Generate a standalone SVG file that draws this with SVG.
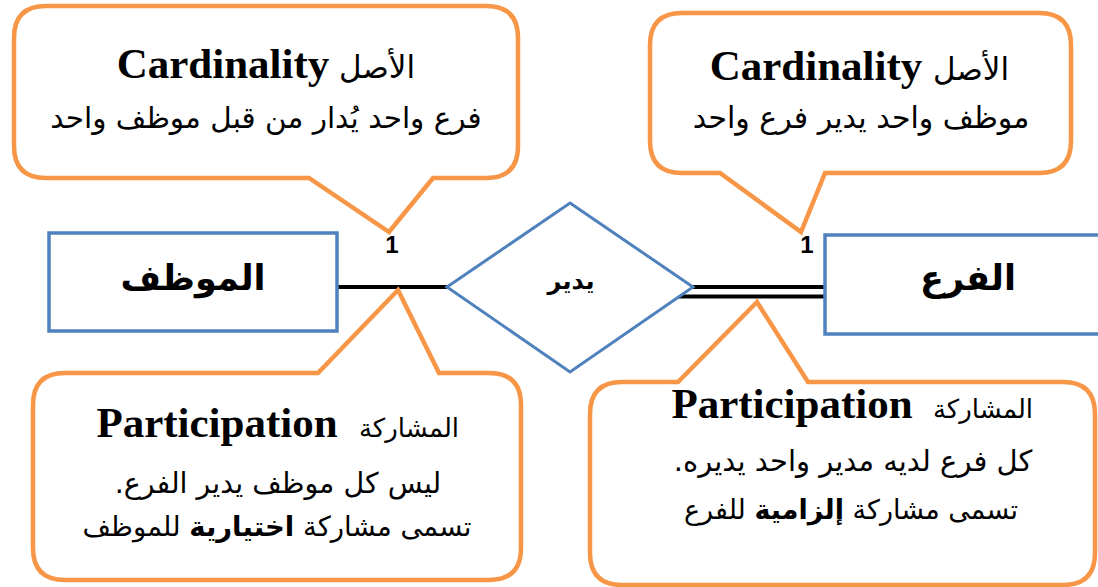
<svg xmlns="http://www.w3.org/2000/svg" width="1098" height="587" viewBox="0 0 1098 587">
<style>
.callout{fill:#fff;stroke:#F79646;stroke-width:4.5;stroke-linejoin:miter}
.ent{fill:#fff;stroke:#4F81BD;stroke-width:3.5}
.rel{fill:#fff;stroke:#4F81BD;stroke-width:3}
.conn{stroke:#000;stroke-width:4;fill:none}
.en{font-family:"Liberation Serif",serif;font-weight:bold;font-size:43px;fill:#000}
.ar{font-family:"DejaVu Sans","Liberation Sans",sans-serif;font-size:28px;fill:#000}
.art{font-family:"DejaVu Sans","Liberation Sans",sans-serif;font-size:27px;fill:#000}
.big{font-family:"DejaVu Sans","Liberation Sans",sans-serif;font-weight:bold;font-size:35px;fill:#000}
.num{font-family:"Liberation Sans",sans-serif;font-weight:bold;font-size:24px;fill:#000}
</style>
<rect width="1098" height="587" fill="#fff"/>
<g id="connectors">
<line class="conn" x1="337" y1="287" x2="447" y2="287"/>
<line class="conn" x1="693" y1="287" x2="825" y2="287"/>
<line class="conn" x1="678" y1="296.5" x2="825" y2="296.5"/>
</g>
<g id="employee">
<rect class="ent" x="49" y="233" width="288" height="98"/>
<text class="big" x="193" y="290" text-anchor="middle">الموظف</text>
</g>
<g id="branch">
<rect class="ent" x="825" y="235" width="285" height="99"/>
<text class="big" x="968" y="290" text-anchor="middle">الفرع</text>
</g>
<g id="manages">
<polygon class="rel" points="570,203 693,287 570,372 447,287"/>
<text class="big" x="571" y="289" text-anchor="middle" style="font-size:24px">يدير</text>
</g>
<g id="card-left">
<text class="num" x="392" y="253" text-anchor="middle">1</text>
</g>
<g id="card-right">
<text class="num" x="807" y="253" text-anchor="middle">1</text>
</g>
<g id="callout-top-left">
<path class="callout" d="M46 6 H486 Q518 6 518 38 V146 Q518 178 486 178 H433 L389 232 L309 178 H46 Q14 178 14 146 V38 Q14 6 46 6 Z"/>
<text class="en" x="223" y="78" text-anchor="middle">Cardinality</text>
<text class="art" x="377" y="78" text-anchor="middle" style="font-size:31px">الأصل</text>
<text class="ar" x="266" y="128" text-anchor="middle" style="font-size:29.5px">فرع واحد يُدار من قبل موظف واحد</text>
</g>
<g id="callout-top-right">
<path class="callout" d="M682 13 H1039 Q1071 13 1071 45 V141 Q1071 173 1039 173 H825 L801 232 L720 173 H682 Q650 173 650 141 V45 Q650 13 682 13 Z"/>
<text class="en" x="816" y="80" text-anchor="middle">Cardinality</text>
<text class="art" x="971" y="80" text-anchor="middle" style="font-size:31px">الأصل</text>
<text class="ar" x="861" y="128" text-anchor="middle" style="font-size:30px">موظف واحد يدير فرع واحد</text>
</g>
<g id="callout-bottom-left">
<path class="callout" d="M65 373 H318 L398 290 L439 373 H489 Q521 373 521 405 V548 Q521 580 489 580 H65 Q33 580 33 548 V405 Q33 373 65 373 Z"/>
<text class="en" x="217" y="437" text-anchor="middle">Participation</text>
<text class="art" x="409" y="437" text-anchor="middle" style="font-size:26px">المشاركة</text>
<text class="ar" x="278" y="493" text-anchor="middle" direction="rtl" style="font-size:28.5px">ليس كل موظف يدير الفرع.</text>
<text class="ar" x="277" y="536" text-anchor="middle" direction="rtl" style="font-size:27.5px">تسمى مشاركة <tspan font-weight="bold">اختيارية</tspan> للموظف</text>
</g>
<g id="callout-bottom-right">
<path class="callout" d="M622 382 H678 L757 302 L808 382 H1063 Q1095 382 1095 414 V553 Q1095 585 1063 585 H622 Q590 585 590 553 V414 Q590 382 622 382 Z"/>
<text class="en" x="792" y="418" text-anchor="middle">Participation</text>
<text class="art" x="983" y="418" text-anchor="middle" style="font-size:26px">المشاركة</text>
<text class="ar" x="853" y="471" text-anchor="middle" direction="rtl" style="font-size:29px">كل فرع لديه مدير واحد يديره.</text>
<text class="ar" x="851" y="519" text-anchor="middle" direction="rtl" style="font-size:27px">تسمى مشاركة <tspan font-weight="bold">إلزامية</tspan> للفرع</text>
</g>
</svg>
